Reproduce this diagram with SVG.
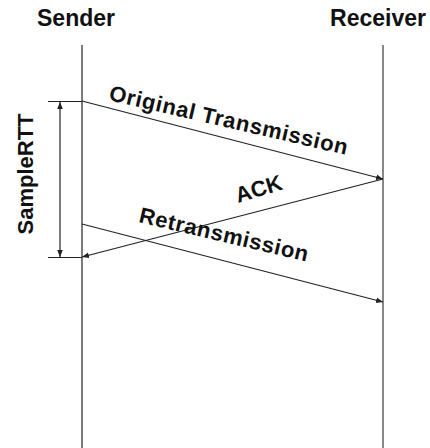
<svg xmlns="http://www.w3.org/2000/svg" width="430" height="448" viewBox="0 0 430 448">
<style>
.t{font-family:"Liberation Sans",Arial,sans-serif;font-weight:bold;fill:#111}
.life{stroke:#333;stroke-width:1.3}
.msg{stroke:#222;stroke-width:1.2;fill:none}
</style>
<defs>
<marker id="ah" viewBox="0 0 10 10" refX="10" refY="5" markerWidth="7" markerHeight="7" markerUnits="userSpaceOnUse" orient="auto-start-reverse">
<path d="M0,1 L10,5 L0,9 z" fill="#222"/>
</marker>
</defs>
<rect width="430" height="448" fill="#fff"/>
<g id="sender">
<text class="t" x="76" y="26" font-size="23" text-anchor="middle">Sender</text>
<line class="life" x1="82" y1="45" x2="82" y2="448"/>
</g>
<g id="receiver">
<text class="t" x="378" y="26" font-size="23" text-anchor="middle">Receiver</text>
<line x1="383" y1="45" x2="383" y2="448" stroke="#888" stroke-width="2"/>
</g>
<g id="connectors">
<line class="msg" x1="82" y1="101" x2="383" y2="179" marker-end="url(#ah)"/>
<line class="msg" x1="383" y1="179" x2="82" y2="257" marker-end="url(#ah)"/>
<line class="msg" x1="82" y1="224" x2="383" y2="302" marker-end="url(#ah)"/>
<line class="msg" x1="48" y1="101.5" x2="82" y2="101.5"/>
<line class="msg" x1="48" y1="257.5" x2="82" y2="257.5"/>
<line class="msg" x1="60" y1="102" x2="60" y2="257" marker-start="url(#ah)" marker-end="url(#ah)"/>
</g>
<g id="labels">
<text class="t" font-size="22" transform="translate(108,100) rotate(13)" textLength="244" lengthAdjust="spacing">Original Transmission</text>
<text class="t" font-size="22" transform="translate(238,203) rotate(-17)">ACK</text>
<text class="t" font-size="22" transform="translate(138,222) rotate(13.2)" textLength="173" lengthAdjust="spacing">Retransmission</text>
<text class="t" font-size="22" text-anchor="middle" transform="translate(33,174) rotate(-90)">SampleRTT</text>
</g>
</svg>
